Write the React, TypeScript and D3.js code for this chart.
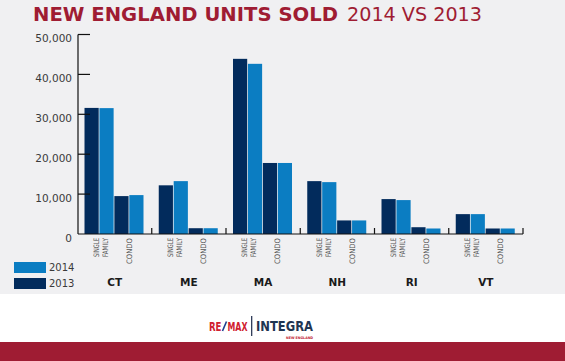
import React from "react";
import * as d3 from "d3";

const states = ["CT", "ME", "MA", "NH", "RI", "VT"];
const years = ["2013", "2014"];
const sf2013 = [31600, 12200, 43900, 13250, 8750, 4980];
const sf2014 = [31550, 13250, 42650, 13000, 8500, 4980];
const condo2013 = [9500, 1450, 17800, 3400, 1700, 1380];
const condo2014 = [9750, 1450, 17800, 3400, 1380, 1380];
const yTicks = [0, 10000, 20000, 30000, 40000, 50000];

const W = 565, H = 361;
const NAVY = "#022b5c";
const BLUE = "#0b7dc2";
const RED = "#9f1c33";

export default function App() {
  const x0 = d3.scaleBand<string>().domain(states).range([77.5, 523]).padding(0);
  const keys = ["SF-2013", "SF-2014", "Condo-2013", "Condo-2014"];
  const x1 = d3.scaleBand<string>().domain(keys).range([7, 66]).paddingInner(0.05).paddingOuter(0);
  const y = d3.scaleLinear().domain([0, 50000]).range([234, 34.5]);
  const fmt = d3.format(",");

  const series: { key: string; vals: number[]; color: string }[] = [
    { key: "SF-2013", vals: sf2013, color: NAVY },
    { key: "SF-2014", vals: sf2014, color: BLUE },
    { key: "Condo-2013", vals: condo2013, color: NAVY },
    { key: "Condo-2014", vals: condo2014, color: BLUE },
  ];

  const font = "'DejaVu Sans', sans-serif";
  const bw = x1.bandwidth();

  return (
    <svg width={W} height={H} style={{ position: "absolute", left: 0, top: 0 }} fontFamily={font}>
      <rect x={0} y={0} width={W} height={294} fill="#f0f0f2" />
      <rect x={0} y={294} width={W} height={48} fill="#ffffff" />
      <rect x={0} y={342} width={W} height={19} fill={RED} />

      {/* title */}
      <text x={33} y={21} fill={RED} fontSize={19} fontWeight="bold" textLength={305} lengthAdjust="spacingAndGlyphs">
        NEW ENGLAND UNITS SOLD
      </text>
      <text x={347} y={21} fill={RED} fontSize={19} fontWeight="normal" textLength={135} lengthAdjust="spacingAndGlyphs">
        2014 VS 2013
      </text>

      {/* bars */}
      {series.map((s) =>
        states.map((st, i) => (
          <rect
            key={s.key + st}
            x={(x0(st) as number) + (x1(s.key) as number)}
            y={y(s.vals[i])}
            width={bw}
            height={y(0) - y(s.vals[i])}
            fill={s.color}
          />
        ))
      )}

      {/* y axis */}
      <line x1={78} x2={78} y1={y(50000)} y2={y(0)} stroke="#111" strokeWidth={1.2} />
      {yTicks.map((t) => (
        <g key={t}>
          {t > 0 && <line x1={78} x2={90} y1={y(t)} y2={y(t)} stroke="#111" strokeWidth={1.2} />}
          <text x={72} y={y(t) + 7.5} textAnchor="end" fontSize={10.5} fill="#3a3a3a">
            {fmt(t)}
          </text>
        </g>
      ))}

      {/* x baseline */}
      <line x1={78} x2={523} y1={y(0)} y2={y(0)} stroke="#111" strokeWidth={1.2} />
      {states.map((st) => {
        const xe = (x0(st) as number) + x0.bandwidth();
        return <line key={"t" + st} x1={xe} x2={xe} y1={y(0)} y2={y(0) - 6} stroke="#111" strokeWidth={1.2} />;
      })}

      {/* category labels */}
      {states.map((st) => {
        const gx = x0(st) as number;
        const sfc = gx + (x1("SF-2014") as number);
        const cc = gx + (x1("Condo-2014") as number);
        return (
          <g key={"l" + st} fill="#555">
            <text transform={`translate(${sfc - 0.5},238) rotate(-90)`} textAnchor="end" fontSize={7.5} textLength={19} lengthAdjust="spacingAndGlyphs">
              SINGLE
            </text>
            <text transform={`translate(${sfc + 8.5},238) rotate(-90)`} textAnchor="end" fontSize={7.5} textLength={19} lengthAdjust="spacingAndGlyphs">
              FAMILY
            </text>
            <text transform={`translate(${cc + 2.5},238) rotate(-90)`} textAnchor="end" fontSize={7.5} textLength={26} lengthAdjust="spacingAndGlyphs">
              CONDO
            </text>
            <text x={gx + x0.bandwidth() / 2} y={286} textAnchor="middle" fontSize={10.5} fontWeight="bold" fill="#1a1a1a">
              {st}
            </text>
          </g>
        );
      })}

      {/* legend */}
      {[...years].reverse().map((yr, i) => (
        <g key={yr}>
          <rect x={14} y={262 + i * 16} width={32} height={11} fill={yr === "2014" ? BLUE : NAVY} />
          <text x={49} y={271 + i * 16} fontSize={10} fill="#3a3a3a">
            {yr}
          </text>
        </g>
      ))}

      {/* logo */}
      <text x={209} y={331} fontSize={12} fontWeight="bold" textLength={12.5} lengthAdjust="spacingAndGlyphs" fill="#d0202f">
        RE
      </text>
      <line x1={222.5} x2={226.5} y1={331} y2={321.5} stroke="#1d3f8f" strokeWidth={1.6} />
      <text x={227.5} y={331} fontSize={12} fontWeight="bold" textLength={20} lengthAdjust="spacingAndGlyphs" fill="#d0202f">
        MAX
      </text>
      <line x1={251.7} x2={251.7} y1={316} y2={336} stroke="#1d2b4a" strokeWidth={1.2} />
      <text x={256} y={331} fontSize={14} fontWeight="bold" fill="#1f3552" textLength={57} lengthAdjust="spacingAndGlyphs">
        INTEGRA
      </text>
      <text x={286} y={339} fontSize={3.5} fontWeight="bold" fill="#c0202f" textLength={27} lengthAdjust="spacingAndGlyphs">
        NEW ENGLAND
      </text>
    </svg>
  );
}
